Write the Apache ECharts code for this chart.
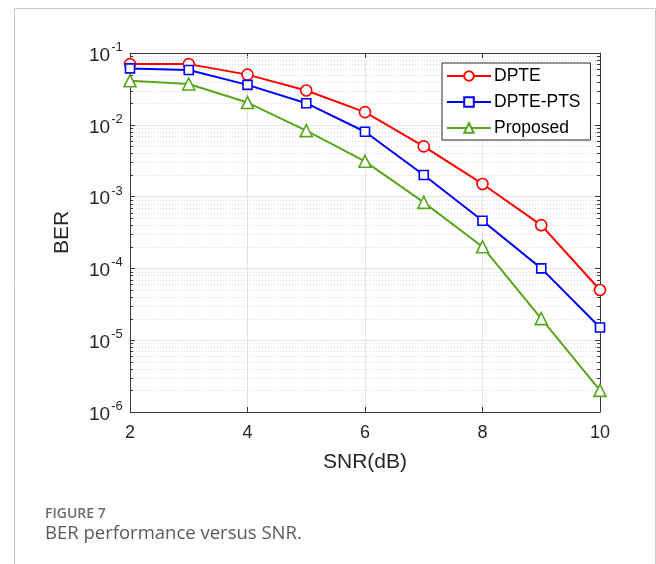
<!DOCTYPE html>
<html>
<head>
<meta charset="utf-8">
<script src="https://cdn.jsdelivr.net/npm/echarts@6/dist/echarts.min.js"></script>
<style>
  html,body{margin:0;padding:0;background:#fff;}
  #chart{width:656px;height:564px;}
</style>
</head>
<body>
<div id="chart"></div>
<script>
var snr = [2, 3, 4, 5, 6, 7, 8, 9, 10];
var berDpte = [0.07, 0.07, 0.05, 0.03, 0.015, 0.005, 0.0015, 0.0004, 0.00005];
var berDptePts = [0.061, 0.058, 0.036, 0.02, 0.008, 0.002, 0.00046, 0.0001, 0.000015];
var berProposed = [0.041, 0.037, 0.0204, 0.0083, 0.0031, 0.00083, 0.0002, 0.00002, 0.000002];
var seriesNames = ['DPTE', 'DPTE-PTS', 'Proposed'];
var decades = [-6, -5, -4, -3, -2];

function pairs(ys){
  var res = [];
  for(var i=0;i<snr.length;i++){ res.push([snr[i], ys[i]]); }
  return res;
}

// minor positions 2..9 inside each decade
var minorVals = [];
for(var d=0;d<decades.length;d++){
  for(var m=2;m<=9;m++){ minorVals.push(+(m*Math.pow(10, decades[d])).toPrecision(3)); }
}

var axisColor = '#3a3a3a';
var labelColor = '#262626';
var fontFam = '"Liberation Sans", Arial, Helvetica, sans-serif';
var capFont = '"Open Sans", "Noto Sans", sans-serif';

var chart = echarts.init(document.getElementById('chart'), null, {renderer:'canvas'});

function yLabel(value){
  var e = Math.round(Math.log(value)/Math.LN10);
  // h is an invisible spacer that fixes the line height
  return '{b|10}{s|' + e + '}{h| }';
}

var markerStyle = function(color){
  return {color:'#fff', borderColor:color, borderWidth:1.6};
};

// dotted minor grid + minor ticks on both sides
function renderMinor(params, api){
  var v = api.value(1);
  var a = api.coord([2, v]);
  var b = api.coord([10, v]);
  var y = Math.round(a[1]) + 0.5;
  return {
    type:'group',
    children:[
      {type:'line', shape:{x1:a[0], y1:y, x2:b[0], y2:y},
        style:{stroke:'#d8d8d8', lineWidth:1, lineDash:[1,2]}},
      {type:'line', shape:{x1:a[0], y1:y, x2:a[0]+3, y2:y},
        style:{stroke:axisColor, lineWidth:1}},
      {type:'line', shape:{x1:b[0]-3, y1:y, x2:b[0], y2:y},
        style:{stroke:axisColor, lineWidth:1}}
    ]
  };
}

var option = {
  animation:false,
  backgroundColor:'#fff',
  grid:{left:130, right:56, top:53, bottom:152, show:false},
  legend:{
    data:seriesNames,
    orient:'vertical',
    left:442, top:63,
    padding:[4, 10, 3, 4],
    itemGap:8,
    itemWidth:44, itemHeight:12,
    backgroundColor:'#fff',
    borderColor:'#262626', borderWidth:1,
    textStyle:{fontSize:17.5, color:'#000', fontFamily:fontFam, padding:[0,0,0,-2]}
  },
  xAxis:[{
    type:'value', min:2, max:10, interval:2,
    name:'SNR(dB)', nameLocation:'middle', nameGap:40,
    nameTextStyle:{fontSize:21, color:labelColor, fontFamily:fontFam},
    axisLine:{show:true, lineStyle:{color:axisColor, width:1}},
    axisTick:{show:true, inside:true, length:5, lineStyle:{color:axisColor}},
    axisLabel:{fontSize:18, color:labelColor, fontFamily:fontFam, margin:12},
    splitLine:{show:true, lineStyle:{color:'#e4e4e4', width:1}}
  },{
    type:'value', min:2, max:10, interval:2, position:'top',
    axisLine:{show:true, onZero:false, lineStyle:{color:axisColor, width:1}},
    axisTick:{show:true, inside:true, length:5, lineStyle:{color:axisColor}},
    axisLabel:{show:false}, splitLine:{show:false}
  }],
  yAxis:[{
    type:'log', logBase:10, min:1e-6, max:1e-1, splitNumber:5,
    name:'BER', nameLocation:'middle', nameGap:57, nameRotate:90,
    nameTextStyle:{fontSize:21, color:labelColor, fontFamily:fontFam},
    axisLine:{show:true, lineStyle:{color:axisColor, width:1}},
    axisTick:{show:true, inside:true, length:5, lineStyle:{color:axisColor}},
    axisLabel:{
      formatter:yLabel, margin:7,
      rich:{
        b:{fontSize:19, lineHeight:18, color:labelColor, fontFamily:fontFam, verticalAlign:'bottom'},
        s:{fontSize:13, lineHeight:13, color:labelColor, fontFamily:fontFam, verticalAlign:'top', padding:[0,0,0,1]},
        h:{fontSize:1, lineHeight:24, verticalAlign:'middle'}
      }
    },
    splitLine:{show:true, lineStyle:{color:'#e4e4e4', width:1}}
  },{
    type:'log', logBase:10, min:1e-6, max:1e-1, splitNumber:5, position:'right',
    axisLine:{show:true, onZero:false, lineStyle:{color:axisColor, width:1}},
    axisTick:{show:true, inside:true, length:5, lineStyle:{color:axisColor}},
    axisLabel:{show:false}, splitLine:{show:false}
  }],
  graphic:[
    {type:'rect', z:-10, silent:true,
      shape:{x:14.5, y:8.5, width:641, height:570}, style:{fill:null, stroke:'#c8c8c8', lineWidth:1}},
    {type:'text', left:45, top:507, silent:true,
      style:{text:'FIGURE 7', fontSize:14, fontWeight:600, fill:'#6b6b6b', fontFamily:capFont}},
    {type:'text', left:45, top:524, silent:true,
      style:{text:'BER performance versus SNR.', fontSize:18.5, fill:'#5a5a5a', fontFamily:capFont}}
  ],
  series:[
    {
      name:'minor', type:'custom', silent:true, z:1,
      renderItem:renderMinor,
      data:minorVals.map(function(v){ return [2, v]; })
    },
    {
      name:'DPTE', type:'line', data:pairs(berDpte), z:5,
      symbol:'circle', symbolSize:11, showAllSymbol:true,
      lineStyle:{color:'#ff0000', width:2}, itemStyle:markerStyle('#ff0000')
    },
    {
      name:'DPTE-PTS', type:'line', data:pairs(berDptePts), z:5,
      symbol:'rect', symbolSize:9, showAllSymbol:true,
      lineStyle:{color:'#0000ff', width:2}, itemStyle:markerStyle('#0000ff')
    },
    {
      name:'Proposed', type:'line', data:pairs(berProposed), z:5,
      symbol:'triangle', symbolSize:12, showAllSymbol:true,
      lineStyle:{color:'#5aa51e', width:2}, itemStyle:markerStyle('#5aa51e')
    }
  ]
};
chart.setOption(option);
</script>
</body>
</html>
